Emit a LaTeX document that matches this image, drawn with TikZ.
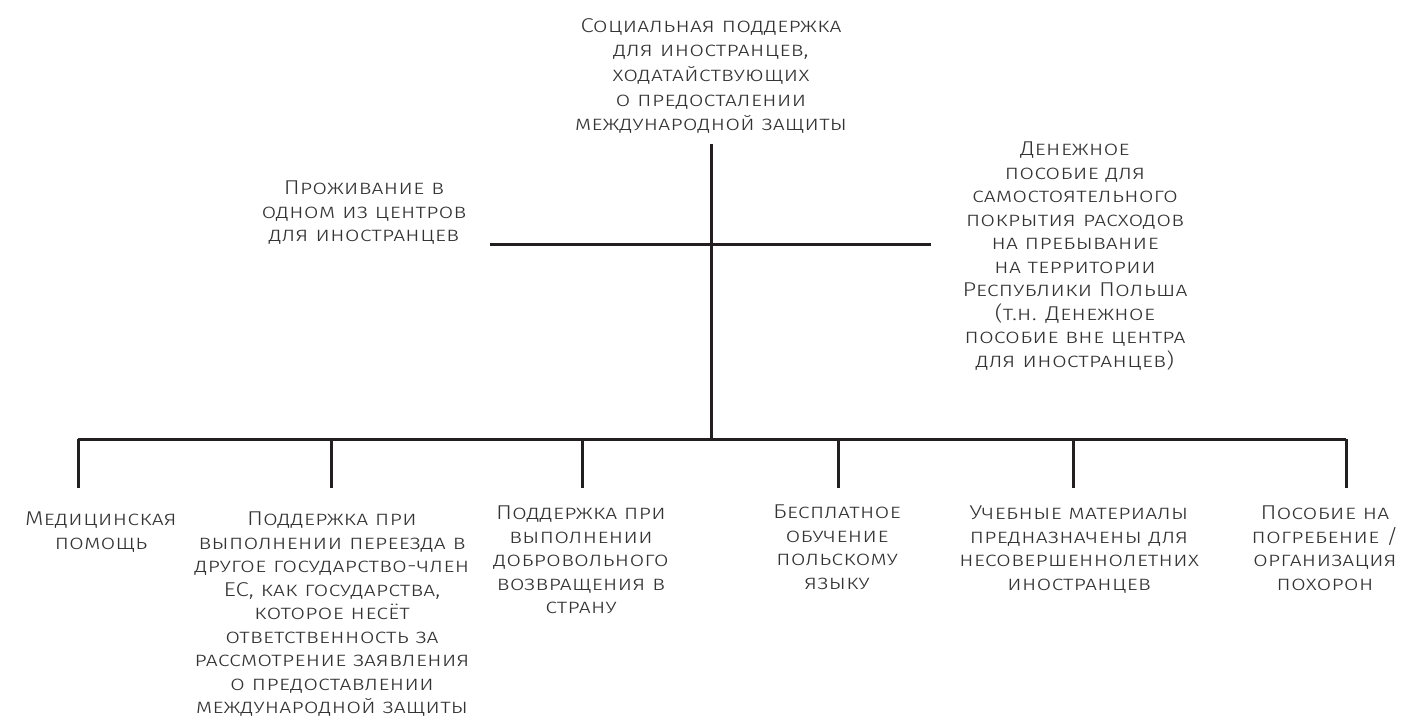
\documentclass[tikz,border=0pt]{standalone}
\usepackage{fontspec}
\setmainfont{Fira Sans}[UprightFont=* Light, Letters=SmallCaps, FakeStretch=1.2]
\definecolor{ink}{HTML}{231F20}
\definecolor{txt}{HTML}{333333}
\tikzset{
  lbl/.style={align=center, text=txt, inner sep=0pt, font=\fontsize{20}{23.5}\selectfont},
  link/.style={draw=ink, line width=3pt}
}
\begin{document}
\begin{tikzpicture}[x=1pt,y=-1pt]
\useasboundingbox (0,0) rectangle (1401,720);
\node[lbl, font=\fontsize{20}{24.6}\selectfont] (top) at (711,76) {Социальная поддержка\\для иностранцев,\\ходатайствующих\\о предосталении\\международной защиты};
\node[lbl] (left) at (364,213) {Проживание в\\одном из центров\\для иностранцев};
\node[lbl] (right) at (1075,256) {Денежное\\пособие для\\самостоятельного\\покрытия расходов\\на пребывание\\на территории\\Республики Польша\\(т.н. Денежное\\пособие вне центра\\для иностранцев)};
\node[lbl, anchor=north] (b1) at (101,512) {Медицинская\\помощь};
\node[lbl, anchor=north] (b2) at (332,512) {Поддержка при\\выполнении переезда в\\другое государство-член\\ЕС, как государства,\\которое несёт\\ответственность за\\рассмотрение заявления\\о предоставлении\\международной защиты};
\node[lbl, anchor=north] (b3) at (581,506) {Поддержка при\\выполнении\\добровольного\\возвращения в\\страну};
\node[lbl, anchor=north] (b4) at (837,505) {Бесплатное\\обучение\\польскому\\языку};
\node[lbl, anchor=north] (b5) at (1079,506) {Учебные материалы\\предназначены для\\несовершеннолетних\\иностранцев};
\node[lbl, anchor=north] (b6) at (1325,506) {Пособие на\\погребение /\\организация\\похорон};
\coordinate (vtop) at (711,144);
\coordinate (hub) at (711,439);
\coordinate (hl) at (490,244);
\coordinate (hr) at (931,244);
\coordinate (d1) at (78,439);
\coordinate (d2) at (331,439);
\coordinate (d3) at (582,439);
\coordinate (d4) at (838,439);
\coordinate (d5) at (1073,439);
\coordinate (d6) at (1346,439);
\draw[link] (vtop) -- (hub);
\draw[link] (hl) -- (hr);
\draw[link] (d1) -- (d6);
\foreach \d in {d1,d2,d3,d4,d5,d6} \draw[link] (\d) -- ++(0,49);
\end{tikzpicture}
\end{document}
